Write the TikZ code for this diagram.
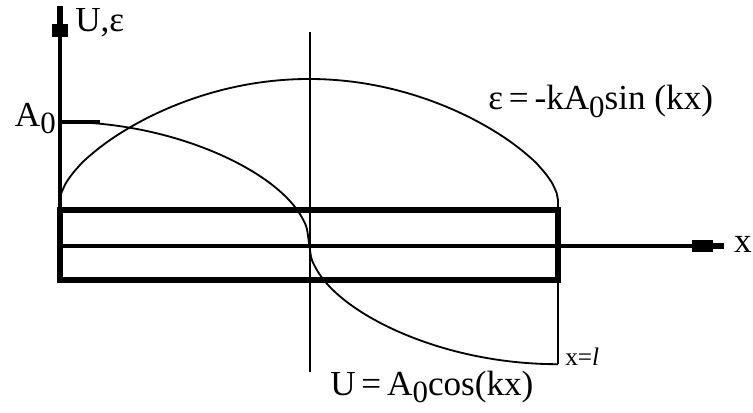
\documentclass[tikz,border=0pt]{standalone}
\usepackage{fontspec}
\setmainfont{Liberation Serif}
\usetikzlibrary{arrows.meta, positioning}
\newcommand{\lowzero}{\raisebox{-0.45ex}{\fontsize{22}{22}\selectfont 0}}
\tikzset{
  yax/.style={line width=3pt,
    -{Rectangle[length=9pt,width=12pt]Rectangle[length=13pt,width=4.6pt]}},
  xax/.style={line width=2.3pt,
    -{Rectangle[length=15pt,width=8pt]Rectangle[length=8pt,width=4.3pt]}},
  bar/.style={line width=3.8pt},
  tck/.style={line width=2.8pt},
  thn/.style={line width=1.3pt},
  crv/.style={line width=1.3pt, samples=120, smooth},
  lbl/.style={inner sep=0pt, font=\fontsize{25}{30}\selectfont},
  sml/.style={inner sep=0pt, font=\fontsize{18}{21}\selectfont}
}

\begin{document}
\begin{tikzpicture}
  \useasboundingbox (0,0) rectangle (18.825,10.3);
  \coordinate (O)    at (1.5,4.15);
  \coordinate (ybot) at (1.5,3.3);
  \coordinate (ytop) at (1.5,10.15);
  \coordinate (xend) at (18.1,4.15);

  % rod
  \draw[bar] (ybot) rectangle (13.95,5.05);

  % axes
  \draw[xax] (O) -- (xend);
  \draw[yax] (ybot) -- (ytop);

  % middle and end lines
  \draw[thn] (7.75,9.5) -- (7.75,1.0);
  \draw[thn] (13.95,5.3) -- (13.95,1.195);
  \draw[tck] (1.5,7.255) -- (2.5,7.255);

  % strain and displacement
  \draw[crv] (1.5,5.3) -- plot[domain=0.5:179.5]
        ({1.5+12.45*\x/180}, {5.3+3.025*pow(sin(\x),0.6)}) -- (13.95,5.3);
  \draw[crv] plot[domain=0:180]
        ({1.5+12.45*\x/180},
         {4.225+3.03*(cos(\x)>=0 ? 1 : -1)*sqrt(abs(cos(\x)))});

  \node[lbl, anchor=base west] (ylbl)   at (1.875,9.5)  {U,ε};
  \node[lbl, anchor=base east] (azero)  at (1.4,7.15)   {A\lowzero};
  \node[lbl, anchor=base west] (epslbl) at (12.2,7.55)
        {ε\,=\,-kA\lowzero sin (kx)};
  \node[lbl, anchor=base east] (xlbl)   at (18.8,4.0)   {x};
  \node[lbl, anchor=base west] (ulbl)   at (8.25,0.425) {U\,=\,A\lowzero cos(kx)};
  \node[sml, anchor=base west] (xl)     at (14.125,1.175) {x=\textit{l}};
\end{tikzpicture}
\end{document}
